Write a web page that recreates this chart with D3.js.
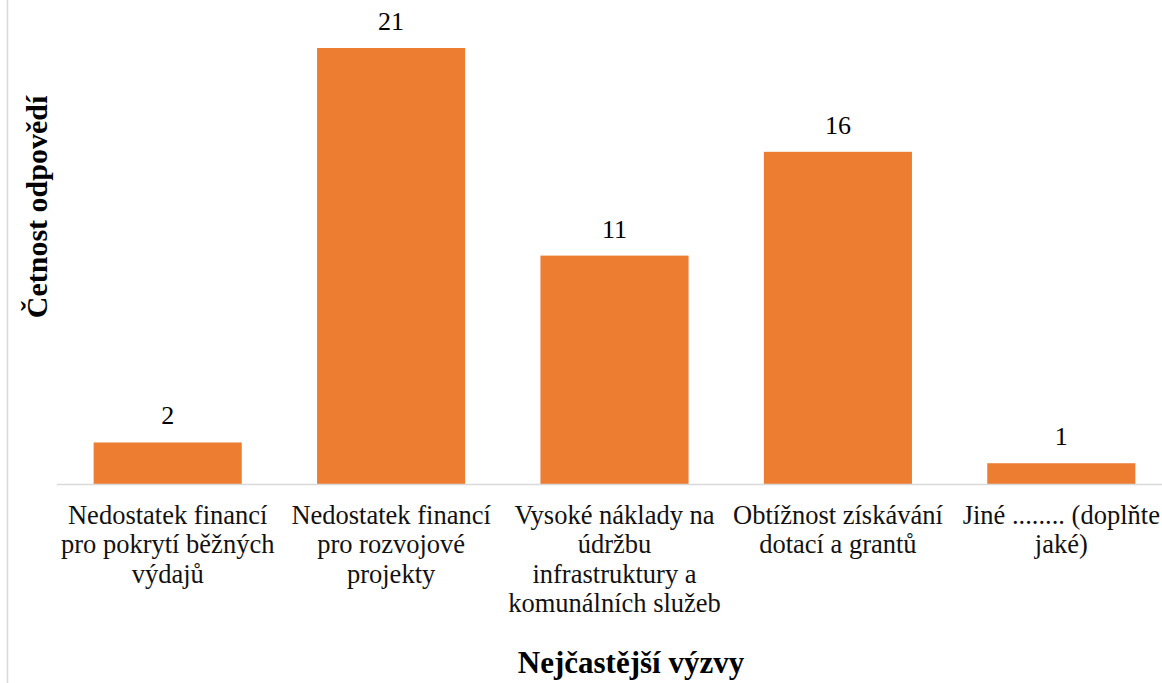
<!DOCTYPE html>
<html>
<head>
<meta charset="utf-8">
<script src="https://cdn.jsdelivr.net/npm/d3@7"></script>
<style>
  body { margin: 0; background: #fff; }
</style>
</head>
<body>
<div id="chart"></div>
<script>
// data
var categories = ["c1", "c2", "c3", "c4", "c5"];
var labels = [
  ["Nedostatek financí", "pro pokrytí běžných", "výdajů"],
  ["Nedostatek financí", "pro rozvojové", "projekty"],
  ["Vysoké náklady na", "údržbu", "infrastruktury a", "komunálních služeb"],
  ["Obtížnost získávání", "dotací a grantů"],
  ["Jiné ........ (doplňte", "jaké)"]
];
var values = [2, 21, 11, 16, 1];
var xTitle = "Nejčastější výzvy";
var yTitle = "Četnost odpovědí";

var FONT = "'Liberation Serif', 'Times New Roman', Tinos, 'DejaVu Serif', serif";
var W = 1162, H = 683;
var svg = d3.select("#chart").append("svg")
  .attr("width", W).attr("height", H)
  .attr("font-family", FONT)
  .style("font-family", FONT);

// left frame line
svg.append("line")
  .attr("x1", 7.5).attr("x2", 7.5).attr("y1", 0).attr("y2", H)
  .attr("stroke", "#d9d9d9").attr("stroke-width", 1.5);

var x = d3.scaleBand()
  .domain(categories)
  .range([56, 1173])
  .paddingInner(0.337)
  .paddingOuter(0.1685);

var y = d3.scaleLinear()
  .domain([0, 21])
  .range([484, 48]);

// bars
svg.selectAll("rect.bar")
  .data(values)
  .enter()
  .append("rect")
  .attr("class", "bar")
  .attr("x", function(d, i) { return x(categories[i]); })
  .attr("y", function(d) { return y(d); })
  .attr("width", x.bandwidth())
  .attr("height", function(d) { return y(0) - y(d); })
  .attr("fill", "#ed7d31");

// axis line
svg.append("line")
  .attr("x1", 57).attr("x2", W)
  .attr("y1", y(0) + 0.5).attr("y2", y(0) + 0.5)
  .attr("stroke", "#d9d9d9").attr("stroke-width", 1.5);

// value labels
svg.selectAll("text.val")
  .data(values)
  .enter()
  .append("text")
  .attr("class", "val")
  .attr("x", function(d, i) { return x(categories[i]) + x.bandwidth() / 2; })
  .attr("y", function(d) { return y(d) - 18; })
  .attr("text-anchor", "middle")
  .attr("font-size", 26)
  .attr("fill", "#000")
  .text(function(d) { return d; });

// category labels
var cat = svg.selectAll("text.cat")
  .data(labels)
  .enter()
  .append("text")
  .attr("class", "cat")
  .attr("text-anchor", "middle")
  .attr("font-size", 26.5)
  .attr("fill", "#111");

cat.selectAll("tspan")
  .data(function(d, i) { return d.map(function(t) { return {t: t, i: i}; }); })
  .enter()
  .append("tspan")
  .attr("x", function(d) { return x(categories[d.i]) + x.bandwidth() / 2; })
  .attr("y", function(d, j) { return 524 + j * 29.3; })
  .text(function(d) { return d.t; });

// axis titles
svg.append("text")
  .attr("x", 631).attr("y", 673)
  .attr("text-anchor", "middle")
  .attr("font-size", 31)
  .attr("font-weight", "bold")
  .attr("fill", "#000")
  .text(xTitle);

svg.append("text")
  .attr("transform", "translate(47,207) rotate(-90)")
  .attr("text-anchor", "middle")
  .attr("font-size", 30)
  .attr("font-weight", "bold")
  .attr("fill", "#000")
  .text(yTitle);
</script>
</body>
</html>
